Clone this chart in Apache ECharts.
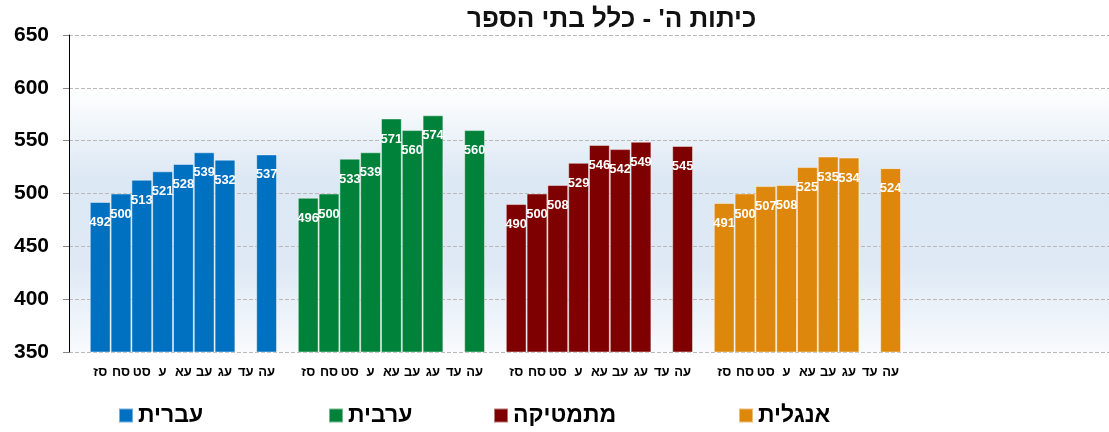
<!DOCTYPE html>
<html>
  <head>
    <meta charset="utf-8" />
    <style>
      html, body {margin: 0; padding: 0; background: #fff;}
      #chart {width: 1109px; height: 432px;}
    </style>
    <script src="https://cdn.jsdelivr.net/npm/echarts@6.0.0/dist/echarts.min.js"></script>
  </head>
  <body>
    <div id="chart"></div>
    <script type="text/javascript">
      // school years (shown under each group)
      var years = ['סז', 'סח', 'סט', 'ע', 'עא', 'עב', 'עג', 'עד', 'עה'];
      var subjects = ['עברית', 'ערבית', 'מתמטיקה', 'אנגלית'];
      var colors = ['#0070c0', '#00823b', '#7f0000', '#dd870c'];

      // scores per subject, '-' = no test that year
      var hebrew  = [492, 500, 513, 521, 528, 539, 532, '-', 537];
      var arabic  = [496, 500, 533, 539, 571, 560, 574, '-', 560];
      var math    = [490, 500, 508, 529, 546, 542, 549, '-', 545];
      var english = [491, 500, 507, 508, 525, 535, 534, '-', 524];

      var yTicks = [350, 400, 450, 500, 550, 600, 650];

      var scores = [hebrew, arabic, math, english];
      var groupCount = 5; // last group is empty in the original

      // build the category axis: a spacer slot, then the years, per group
      var categories = [];
      for (var g = 0; g < groupCount; g++) {
        categories.push('');
        for (var i = 0; i < years.length; i++) {
          categories.push(g < scores.length ? years[i] : '');
        }
      }

      var series = [];
      for (var s = 0; s < scores.length; s++) {
        var data = categories.map(function () { return '-'; });
        for (var k = 0; k < years.length; k++) {
          data[s * (years.length + 1) + 1 + k] = scores[s][k];
        }
        series.push({
          name: subjects[s],
          type: 'bar',
          data: data,
          barGap: '-100%',
          barCategoryGap: '0%',
          itemStyle: {color: colors[s], borderColor: 'rgba(255,255,255,0.45)', borderWidth: 1},
          label: {
            show: true,
            position: 'insideTop',
            distance: 14,
            color: '#fff',
            fontWeight: 'bold',
            fontSize: 13,
            fontFamily: '"Liberation Sans", Arial, sans-serif'
          }
        });
      }

      var legendLefts = [113, 323, 488, 733];
      var legends = subjects.map(function (name, idx) {
        return {
          data: [name],
          left: legendLefts[idx],
          top: 399,
          icon: 'rect',
          itemWidth: 14,
          itemHeight: 14,
          textStyle: {fontSize: 23, fontWeight: 'bold', color: '#000',
                      fontFamily: '"Liberation Sans", Arial, sans-serif'}
        };
      });

      var chart = echarts.init(document.getElementById('chart'));
      var option = {
        animation: false,
        title: {
          text: "כיתות ה' - כלל בתי הספר",
          left: 462,
          top: 2,
          textStyle: {fontSize: 26, fontWeight: 'bold', color: '#111',
                      fontFamily: '"Liberation Sans", Arial, sans-serif'}
        },
        legend: legends,
        grid: {
          left: 69, right: 0, top: 35, bottom: 80,
          show: true,
          borderWidth: 0,
          backgroundColor: new echarts.graphic.LinearGradient(0, 0, 0, 1, [
            {offset: 0, color: '#ffffff'},
            {offset: 0.17, color: '#ffffff'},
            {offset: 0.45, color: '#dce8f4'},
            {offset: 0.72, color: '#dee9f5'},
            {offset: 1, color: '#f8fafd'}
          ])
        },
        xAxis: {
          type: 'category',
          data: categories,
          axisLine: {show: false},
          axisTick: {show: false},
          axisLabel: {interval: 0, margin: 14, color: '#000', fontWeight: 'bold', fontSize: 13,
                      fontFamily: '"Liberation Sans", Arial, sans-serif'}
        },
        yAxis: {
          type: 'value',
          min: yTicks[0],
          max: yTicks[yTicks.length - 1],
          interval: 50,
          axisLine: {show: true, lineStyle: {color: '#000', width: 1}},
          axisTick: {show: true, length: 6, lineStyle: {color: '#888'}},
          axisLabel: {margin: 20, color: '#000', fontWeight: 'bold', fontSize: 21,
                      fontFamily: '"Liberation Sans", Arial, sans-serif'},
          splitLine: {show: true, lineStyle: {color: '#b8b8b8', type: 'dashed', width: 1}}
        },
        series: series
      };
      chart.setOption(option);
    </script>
  </body>
</html>
